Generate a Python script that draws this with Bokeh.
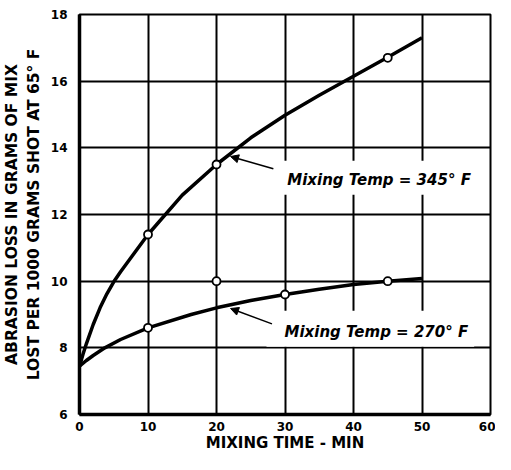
from bokeh.plotting import figure
from bokeh.models import Label, Arrow, NormalHead, FixedTicker, Range1d
from bokeh.embed import file_html
from bokeh.resources import INLINE

# Curve: Mixing Temp = 345 F
t_345 = [0, 0.5, 1, 2, 3, 4, 5, 6, 7.5, 10, 15, 20, 25, 30, 35, 40, 45, 50]
y_345 = [7.45, 7.8, 8.12, 8.7, 9.2, 9.62, 9.98, 10.28, 10.7, 11.4, 12.58, 13.5, 14.3, 14.98, 15.58, 16.15, 16.72, 17.3]
# Curve: Mixing Temp = 270 F
t_270 = [0, 1, 2, 3.7, 6, 10, 16.3, 20, 25, 30, 35, 40, 45, 50]
y_270 = [7.45, 7.62, 7.77, 8.0, 8.25, 8.6, 9.0, 9.2, 9.42, 9.6, 9.76, 9.9, 10.0, 10.08]
# Observed points
obs345_t = [10, 20, 45]
obs345_y = [11.4, 13.5, 16.7]
obs270_t = [10, 20, 30, 45]
obs270_y = [8.6, 10.0, 9.6, 10.0]

x_ticks = [0, 10, 20, 30, 40, 50, 60]
y_ticks = [6, 8, 10, 12, 14, 16, 18]

FONT = "DejaVu Sans"

p = figure(width=495, height=454, output_backend="svg", toolbar_location=None,
           x_range=Range1d(0, 60), y_range=Range1d(6, 18),
           min_border_left=79, min_border_right=5, min_border_top=14, min_border_bottom=30)

p.background_fill_color = "white"
p.border_fill_color = "white"
p.outline_line_color = "black"
p.outline_line_width = 2

for ax in (p.xaxis[0], p.yaxis[0]):
    ax.axis_line_width = 3.5
    ax.axis_line_color = "black"
    ax.major_tick_line_color = None
    ax.minor_tick_line_color = None
    ax.major_label_text_font = FONT
    ax.major_label_text_font_style = "bold"
    ax.major_label_text_font_size = "12px"
    ax.major_label_text_color = "black"
    ax.axis_label_text_font = FONT
    ax.axis_label_text_font_style = "bold"
    ax.axis_label_text_color = "black"

p.xaxis.axis_label_text_font_size = "15px"
p.yaxis.axis_label_text_font_size = "15.5px"
p.xaxis.ticker = FixedTicker(ticks=x_ticks)
p.yaxis.ticker = FixedTicker(ticks=y_ticks)
p.xaxis.major_label_standoff = 1
p.yaxis.major_label_standoff = 6
p.xaxis.axis_label = "MIXING TIME - MIN"
p.xaxis.axis_label_standoff = 0
p.yaxis.axis_label = "ABRASION LOSS IN GRAMS OF MIX\nLOST PER 1000 GRAMS SHOT AT 65° F"
p.yaxis.axis_label_standoff = 5

p.xgrid.ticker = FixedTicker(ticks=x_ticks)
p.ygrid.ticker = FixedTicker(ticks=y_ticks)
for g in (p.xgrid[0], p.ygrid[0]):
    g.grid_line_color = "black"
    g.grid_line_width = 2
    g.grid_line_alpha = 1.0

p.line(t_345, y_345, line_color="black", line_width=3.5)
p.line(t_270, y_270, line_color="black", line_width=3.5)
p.scatter(obs345_t, obs345_y, marker="circle", size=8, fill_color="white",
          line_color="black", line_width=1.8)
p.scatter(obs270_t, obs270_y, marker="circle", size=8, fill_color="white",
          line_color="black", line_width=1.8)

lab1 = Label(x=27.7, y=13.1, text="Mixing Temp = 345° F", text_font=FONT,
             text_font_style="bold italic", text_font_size="15px", text_color="black",
             text_align="left", text_baseline="middle",
             background_fill_color="white", padding=(18, 6, 10, 6))
lab2 = Label(x=27.3, y=8.57, text="Mixing Temp = 270° F", text_font=FONT,
             text_font_style="bold italic", text_font_size="15px", text_color="black",
             text_align="left", text_baseline="middle",
             background_fill_color="white", padding=(18, 6, 12, 6))
p.add_layout(lab1)
p.add_layout(lab2)

p.add_layout(Arrow(x_start=28.3, y_start=13.37, x_end=22.05, y_end=13.74,
                   line_width=1.5, line_color="black",
                   end=NormalHead(size=8, fill_color="black", line_color="black")))
p.add_layout(Arrow(x_start=28.1, y_start=8.72, x_end=22.05, y_end=9.18,
                   line_width=1.5, line_color="black",
                   end=NormalHead(size=8, fill_color="black", line_color="black")))

open("out.html", "w").write(file_html(p, INLINE))
